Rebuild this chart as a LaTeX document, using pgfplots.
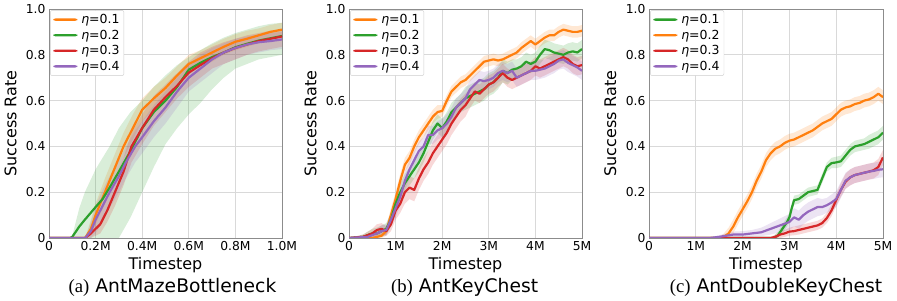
\documentclass[border=0pt]{standalone}
\usepackage{pgfplots}
\pgfplotsset{compat=1.18}
\usepackage{pgfplotstable}
\usepgfplotslibrary{fillbetween}
\usepackage{fontspec}
\setmainfont{DejaVu Sans}
\newfontfamily\capserif{Liberation Serif}

\definecolor{tOrange}{HTML}{FF7F0E}
\definecolor{tGreen}{HTML}{2CA02C}
\definecolor{tRed}{HTML}{D62728}
\definecolor{tPurple}{HTML}{9467BD}

% ---------------- Panel (a) ----------------
\pgfplotstableread{
x y lo hi
0 0 0 0
0.155 0 0 0
0.18 0.04 0.01 0.08
0.2 0.10 0.06 0.15
0.24 0.2 0.15 0.26
0.28 0.3 0.25 0.36
0.32 0.4 0.35 0.46
0.36 0.48 0.43 0.54
0.4 0.56 0.51 0.61
0.45 0.61 0.56 0.66
0.5 0.655 0.61 0.70
0.55 0.71 0.67 0.75
0.6 0.76 0.72 0.80
0.65 0.785 0.75 0.82
0.7 0.81 0.77 0.845
0.75 0.835 0.80 0.87
0.8 0.857 0.82 0.89
0.85 0.87 0.835 0.905
0.9 0.885 0.85 0.915
0.95 0.90 0.865 0.93
1.0 0.91 0.875 0.94
}\AO
\pgfplotstableread{
x y lo hi
0 0 0 0
0.09 0 0 0
0.1 0.005 0 0.01
0.13 0.05 0 0.13
0.154 0.08 0 0.2
0.2 0.135 0 0.3
0.23 0.17 0 0.35
0.26 0.22 0 0.40
0.3 0.29 0 0.48
0.35 0.38 0.09 0.55
0.4 0.48 0.2 0.6
0.45 0.55 0.31 0.66
0.5 0.60 0.41 0.71
0.55 0.66 0.48 0.755
0.6 0.735 0.54 0.79
0.65 0.765 0.59 0.82
0.7 0.79 0.65 0.85
0.75 0.81 0.70 0.875
0.8 0.833 0.74 0.895
0.85 0.848 0.76 0.91
0.9 0.862 0.78 0.925
0.95 0.872 0.79 0.935
1.0 0.882 0.80 0.94
}\AG
\pgfplotstableread{
x y lo hi
0 0 0 0
0.155 0 0 0
0.18 0.02 0 0.05
0.2 0.04 0.01 0.08
0.22 0.06 0.02 0.11
0.25 0.12 0.07 0.18
0.283 0.2 0.14 0.26
0.32 0.29 0.23 0.35
0.354 0.4 0.33 0.46
0.4 0.48 0.41 0.54
0.45 0.56 0.49 0.62
0.5 0.615 0.55 0.67
0.55 0.665 0.61 0.72
0.6 0.722 0.66 0.77
0.65 0.755 0.70 0.81
0.7 0.785 0.74 0.835
0.75 0.81 0.76 0.855
0.8 0.83 0.78 0.87
0.85 0.845 0.80 0.885
0.9 0.86 0.815 0.895
0.95 0.87 0.825 0.905
1.0 0.88 0.835 0.91
}\AR
\pgfplotstableread{
x y lo hi
0 0 0 0
0.155 0 0 0
0.18 0.03 0 0.07
0.2 0.08 0.02 0.14
0.23 0.14 0.07 0.21
0.26 0.2 0.13 0.27
0.3 0.27 0.2 0.34
0.33 0.33 0.26 0.40
0.37 0.4 0.33 0.47
0.4 0.44 0.37 0.51
0.45 0.51 0.44 0.58
0.5 0.57 0.5 0.64
0.55 0.64 0.57 0.7
0.6 0.70 0.64 0.76
0.65 0.74 0.68 0.8
0.7 0.78 0.72 0.83
0.75 0.81 0.76 0.85
0.8 0.83 0.78 0.87
0.85 0.845 0.80 0.88
0.9 0.855 0.81 0.89
0.95 0.86 0.82 0.895
1.0 0.867 0.825 0.9
}\AP

% ---------------- Panel (b) ----------------
\pgfplotstableread{
x y lo hi
0 0 0 0
0.5 0 0 0.005
0.6 0.005 0 0.015
0.7 0.01 0 0.025
0.8 0.03 0.01 0.05
0.9 0.10 0.07 0.13
1.0 0.17 0.14 0.20
1.1 0.25 0.22 0.28
1.2 0.32 0.29 0.35
1.3 0.35 0.32 0.38
1.4 0.40 0.37 0.43
1.5 0.44 0.41 0.47
1.6 0.47 0.44 0.50
1.7 0.50 0.47 0.53
1.8 0.53 0.50 0.56
1.9 0.55 0.52 0.58
2.0 0.555 0.53 0.58
2.1 0.60 0.575 0.625
2.2 0.64 0.615 0.665
2.3 0.66 0.635 0.685
2.4 0.68 0.655 0.705
2.5 0.69 0.665 0.715
2.6 0.71 0.685 0.735
2.7 0.73 0.705 0.755
2.8 0.75 0.725 0.775
2.9 0.77 0.745 0.795
3.0 0.775 0.75 0.80
3.1 0.78 0.755 0.805
3.2 0.775 0.75 0.80
3.3 0.78 0.755 0.805
3.4 0.79 0.765 0.815
3.5 0.80 0.775 0.825
3.6 0.81 0.785 0.835
3.7 0.83 0.805 0.855
3.8 0.845 0.82 0.87
3.9 0.86 0.835 0.885
4.0 0.845 0.82 0.87
4.1 0.86 0.835 0.885
4.2 0.875 0.85 0.90
4.3 0.885 0.86 0.91
4.4 0.885 0.86 0.91
4.5 0.90 0.875 0.925
4.6 0.91 0.885 0.935
4.7 0.905 0.88 0.93
4.8 0.90 0.875 0.925
4.9 0.90 0.875 0.925
5.0 0.905 0.88 0.93
}\BO
\pgfplotstableread{
x y lo hi
0 0 0 0
0.3 0.005 0 0.015
0.5 0.02 0 0.04
0.6 0.02 0 0.045
0.7 0.03 0.005 0.055
0.8 0.04 0.015 0.065
0.9 0.08 0.05 0.11
1.0 0.15 0.11 0.19
1.1 0.20 0.16 0.24
1.2 0.24 0.20 0.28
1.3 0.27 0.23 0.31
1.4 0.30 0.26 0.34
1.5 0.33 0.29 0.37
1.6 0.37 0.33 0.41
1.7 0.42 0.38 0.46
1.8 0.47 0.43 0.51
1.9 0.50 0.46 0.54
2.0 0.48 0.44 0.52
2.1 0.51 0.47 0.55
2.2 0.55 0.51 0.59
2.3 0.57 0.53 0.61
2.4 0.59 0.55 0.63
2.5 0.61 0.56 0.66
2.6 0.62 0.57 0.67
2.7 0.63 0.58 0.68
2.8 0.64 0.59 0.69
2.9 0.65 0.60 0.70
3.0 0.67 0.62 0.72
3.1 0.68 0.63 0.73
3.2 0.70 0.65 0.75
3.3 0.73 0.68 0.78
3.4 0.72 0.67 0.77
3.5 0.735 0.69 0.78
3.6 0.74 0.70 0.78
3.7 0.75 0.71 0.79
3.8 0.77 0.73 0.81
3.9 0.76 0.72 0.80
4.0 0.77 0.73 0.81
4.1 0.80 0.76 0.84
4.2 0.825 0.785 0.865
4.3 0.82 0.78 0.86
4.4 0.81 0.77 0.85
4.5 0.805 0.765 0.845
4.6 0.80 0.76 0.84
4.7 0.81 0.77 0.85
4.8 0.815 0.775 0.855
4.9 0.81 0.77 0.85
5.0 0.825 0.785 0.865
}\BG
\pgfplotstableread{
x y lo hi
0 0 0 0
0.3 0.005 0 0.015
0.5 0.02 0 0.04
0.6 0.035 0.01 0.06
0.7 0.04 0.015 0.065
0.8 0.03 0.01 0.05
0.9 0.06 0.03 0.09
1.0 0.12 0.08 0.16
1.1 0.15 0.11 0.19
1.2 0.20 0.15 0.25
1.3 0.22 0.17 0.27
1.4 0.21 0.16 0.26
1.5 0.26 0.21 0.31
1.6 0.30 0.25 0.35
1.7 0.33 0.28 0.38
1.8 0.37 0.32 0.42
1.9 0.40 0.35 0.45
2.0 0.43 0.38 0.48
2.1 0.46 0.41 0.51
2.2 0.50 0.45 0.55
2.3 0.53 0.48 0.58
2.4 0.56 0.51 0.61
2.5 0.58 0.53 0.63
2.6 0.61 0.57 0.65
2.7 0.64 0.60 0.68
2.8 0.63 0.59 0.67
2.9 0.65 0.61 0.69
3.0 0.67 0.63 0.71
3.1 0.68 0.64 0.72
3.2 0.70 0.66 0.74
3.3 0.72 0.68 0.76
3.4 0.70 0.66 0.74
3.5 0.69 0.65 0.73
3.6 0.70 0.66 0.74
3.7 0.71 0.67 0.75
3.8 0.72 0.68 0.76
3.9 0.73 0.69 0.77
4.0 0.75 0.71 0.79
4.1 0.74 0.70 0.78
4.2 0.75 0.71 0.79
4.3 0.76 0.72 0.80
4.4 0.77 0.73 0.81
4.5 0.78 0.74 0.82
4.6 0.79 0.75 0.83
4.7 0.78 0.74 0.82
4.8 0.76 0.72 0.80
4.9 0.75 0.71 0.79
5.0 0.755 0.715 0.795
}\BR
\pgfplotstableread{
x y lo hi
0 0 0 0
0.4 0.005 0 0.015
0.6 0.02 0 0.04
0.7 0.03 0.005 0.055
0.8 0.035 0.01 0.06
0.9 0.08 0.05 0.11
1.0 0.13 0.09 0.17
1.1 0.18 0.14 0.22
1.2 0.25 0.21 0.29
1.3 0.30 0.26 0.34
1.4 0.34 0.30 0.38
1.5 0.38 0.34 0.42
1.6 0.40 0.36 0.44
1.7 0.45 0.41 0.49
1.8 0.45 0.41 0.49
1.9 0.47 0.43 0.51
2.0 0.48 0.44 0.52
2.1 0.50 0.46 0.54
2.2 0.53 0.49 0.57
2.3 0.57 0.53 0.61
2.4 0.59 0.55 0.63
2.5 0.61 0.57 0.65
2.6 0.65 0.61 0.69
2.7 0.67 0.63 0.71
2.8 0.69 0.65 0.73
2.9 0.685 0.645 0.725
3.0 0.69 0.65 0.73
3.1 0.70 0.66 0.74
3.2 0.72 0.68 0.76
3.3 0.73 0.69 0.77
3.4 0.72 0.68 0.76
3.5 0.73 0.69 0.77
3.6 0.70 0.66 0.74
3.7 0.71 0.67 0.75
3.8 0.72 0.68 0.76
3.9 0.73 0.69 0.77
4.0 0.73 0.69 0.77
4.1 0.735 0.695 0.775
4.2 0.74 0.70 0.78
4.3 0.75 0.71 0.79
4.4 0.76 0.72 0.80
4.5 0.775 0.735 0.815
4.6 0.78 0.74 0.82
4.7 0.765 0.725 0.805
4.8 0.755 0.715 0.795
4.9 0.745 0.705 0.785
5.0 0.73 0.69 0.77
}\BP

% ---------------- Panel (c) ----------------
\pgfplotstableread{
x y lo hi
0 0 0 0
1.5 0 0 0.005
1.6 0.005 0 0.02
1.7 0.02 0 0.045
1.8 0.05 0.02 0.08
1.9 0.09 0.06 0.12
2.0 0.125 0.095 0.155
2.1 0.16 0.13 0.19
2.2 0.20 0.17 0.23
2.3 0.25 0.22 0.28
2.4 0.29 0.26 0.32
2.5 0.34 0.31 0.37
2.6 0.37 0.34 0.40
2.7 0.39 0.36 0.42
2.8 0.40 0.37 0.43
2.9 0.415 0.385 0.445
3.0 0.425 0.395 0.455
3.1 0.43 0.40 0.46
3.2 0.44 0.41 0.47
3.3 0.45 0.42 0.48
3.4 0.46 0.43 0.49
3.5 0.47 0.44 0.50
3.6 0.485 0.455 0.515
3.7 0.50 0.47 0.53
3.8 0.51 0.48 0.54
3.9 0.52 0.49 0.55
4.0 0.54 0.51 0.57
4.1 0.56 0.53 0.59
4.2 0.57 0.54 0.60
4.3 0.575 0.545 0.605
4.4 0.585 0.555 0.615
4.5 0.59 0.56 0.62
4.6 0.60 0.57 0.63
4.7 0.605 0.575 0.635
4.8 0.615 0.585 0.645
4.9 0.63 0.60 0.66
5.0 0.615 0.585 0.645
}\CO
\pgfplotstableread{
x y lo hi
0 0 0 0
2.65 0 0 0.005
2.75 0.01 0 0.025
2.85 0.04 0.02 0.06
2.95 0.07 0.05 0.09
3.0 0.09 0.07 0.11
3.05 0.13 0.11 0.15
3.1 0.165 0.145 0.185
3.2 0.17 0.15 0.19
3.3 0.185 0.165 0.205
3.4 0.20 0.18 0.22
3.5 0.205 0.185 0.225
3.6 0.21 0.19 0.23
3.7 0.26 0.24 0.28
3.8 0.31 0.29 0.33
3.9 0.327 0.305 0.35
4.0 0.33 0.305 0.355
4.1 0.335 0.31 0.36
4.2 0.36 0.335 0.385
4.3 0.385 0.36 0.41
4.4 0.40 0.375 0.425
4.5 0.405 0.38 0.43
4.6 0.41 0.385 0.435
4.7 0.42 0.39 0.45
4.8 0.43 0.40 0.46
4.9 0.44 0.41 0.47
5.0 0.46 0.43 0.49
}\CG
\pgfplotstableread{
x y lo hi
0 0 0 0
2.6 0 0 0.005
2.7 0.005 0 0.015
2.8 0.015 0 0.03
2.9 0.02 0.005 0.035
3.0 0.028 0.01 0.045
3.1 0.03 0.012 0.05
3.2 0.035 0.015 0.055
3.3 0.04 0.02 0.06
3.4 0.045 0.025 0.065
3.5 0.05 0.03 0.07
3.6 0.055 0.035 0.075
3.7 0.065 0.045 0.085
3.8 0.087 0.065 0.11
3.9 0.12 0.095 0.145
4.0 0.166 0.14 0.19
4.1 0.21 0.18 0.24
4.2 0.246 0.215 0.28
4.3 0.265 0.23 0.30
4.4 0.275 0.24 0.31
4.5 0.28 0.245 0.315
4.6 0.285 0.25 0.32
4.7 0.29 0.255 0.325
4.8 0.296 0.26 0.33
4.9 0.31 0.275 0.345
5.0 0.352 0.32 0.385
}\CR
\pgfplotstableread{
x y lo hi
0 0 0 0
1.3 0 0 0.003
1.5 0.005 0 0.012
1.8 0.015 0.003 0.028
2.0 0.015 0.003 0.03
2.2 0.02 0.005 0.035
2.4 0.025 0.008 0.045
2.6 0.04 0.015 0.065
2.8 0.055 0.025 0.085
3.0 0.07 0.035 0.105
3.1 0.09 0.05 0.13
3.2 0.08 0.04 0.12
3.3 0.10 0.06 0.14
3.4 0.115 0.075 0.155
3.5 0.125 0.085 0.165
3.6 0.135 0.095 0.175
3.7 0.135 0.10 0.17
3.8 0.143 0.11 0.175
3.9 0.155 0.12 0.19
4.0 0.17 0.135 0.205
4.1 0.21 0.175 0.245
4.2 0.25 0.215 0.285
4.3 0.265 0.23 0.30
4.4 0.275 0.24 0.31
4.5 0.28 0.245 0.315
4.6 0.285 0.25 0.32
4.7 0.29 0.255 0.325
4.8 0.293 0.258 0.328
4.9 0.298 0.263 0.333
5.0 0.30 0.265 0.335
}\CP

\newcommand{\bandplot}[3]{%
  \addplot[draw=none, name path=#3L, forget plot] table[x=x,y=lo]{#1};
  \addplot[draw=none, name path=#3H, forget plot] table[x=x,y=hi]{#1};
  \addplot[draw=none, fill=#2, fill opacity=0.18, forget plot] fill between[of=#3L and #3H];
}
\newcommand{\meanplot}[2]{%
  \addplot[draw=#2, line width=2.2pt, line join=round, forget plot] table[x=x,y=y]{#1};
}
\newcommand{\legimg}[1]{\addlegendimage{color=#1}}

\pgfplotsset{
  panel/.style={
    scale only axis, width=233pt, height=229pt,
    ymin=0, ymax=1,
    ytick={0,0.2,0.4,0.6,0.8,1.0},
    yticklabels={0,0.2,0.4,0.6,0.8,1.0},
    grid=major,
    major grid style={draw=black!15, line width=0.7pt},
    axis line style={draw=black!45, line width=0.9pt},
    major tick length=0pt,
    tick label style={font=\fontsize{12.3}{14}\selectfont},
    xlabel={Timestep}, ylabel={Success Rate},
    every axis x label/.style={at={(axis description cs:0.5,-0.118)}, anchor=center, font=\fontsize{16}{19}\selectfont},
    every axis y label/.style={at={(axis description cs:-0.165,0.5)}, anchor=center, rotate=90, font=\fontsize{16}{19}\selectfont},
    legend style={at={(axis description cs:0.005,0.995)}, anchor=north west,
      draw=black!20, rounded corners=2pt, fill=white,
      font=\fontsize{12.5}{14}\selectfont, inner xsep=3pt, inner ysep=2.5pt,
      row sep=2pt, column sep=2.5pt, nodes={inner sep=1.4pt}},
    legend cell align=left,
    legend image code/.code={\fill[##1, draw=none] (0pt,-1.15pt) rectangle (24pt,1.15pt);},
  }
}

\begin{document}
\begin{tikzpicture}
\path (0,0) rectangle (897pt,299pt);

% ---- (a)
\begin{axis}[panel, at={(49pt,61pt)}, anchor=south west,
  xmin=0, xmax=1, xtick={0,0.2,0.4,0.6,0.8,1.0},
  xticklabels={0,0.2M,0.4M,0.6M,0.8M,1.0M}]
\legimg{tOrange}\addlegendentry{{\itshape η}=0.1}
\legimg{tGreen}\addlegendentry{{\itshape η}=0.2}
\legimg{tRed}\addlegendentry{{\itshape η}=0.3}
\legimg{tPurple}\addlegendentry{{\itshape η}=0.4}
\bandplot{\AO}{tOrange}{ao}
\bandplot{\AG}{tGreen}{ag}
\bandplot{\AR}{tRed}{ar}
\bandplot{\AP}{tPurple}{ap}
\meanplot{\AO}{tOrange}
\meanplot{\AG}{tGreen}
\meanplot{\AR}{tRed}
\meanplot{\AP}{tPurple}
\end{axis}

% ---- (b)
\begin{axis}[panel, at={(349pt,61pt)}, anchor=south west,
  xmin=0, xmax=5, xtick={0,1,2,3,4,5},
  xticklabels={0,1M,2M,3M,4M,5M}]
\legimg{tOrange}\addlegendentry{{\itshape η}=0.1}
\legimg{tGreen}\addlegendentry{{\itshape η}=0.2}
\legimg{tRed}\addlegendentry{{\itshape η}=0.3}
\legimg{tPurple}\addlegendentry{{\itshape η}=0.4}
\bandplot{\BO}{tOrange}{bo}
\bandplot{\BG}{tGreen}{bg}
\bandplot{\BR}{tRed}{br}
\bandplot{\BP}{tPurple}{bp}
\meanplot{\BO}{tOrange}
\meanplot{\BG}{tGreen}
\meanplot{\BR}{tRed}
\meanplot{\BP}{tPurple}
\end{axis}

% ---- (c)
\begin{axis}[panel, at={(649pt,61pt)}, anchor=south west, width=234pt,
  xmin=0, xmax=5, xtick={0,1,2,3,4,5},
  xticklabels={0,1M,2M,3M,4M,5M}]
\legimg{tGreen}\addlegendentry{{\itshape η}=0.1}
\legimg{tOrange}\addlegendentry{{\itshape η}=0.2}
\legimg{tRed}\addlegendentry{{\itshape η}=0.3}
\legimg{tPurple}\addlegendentry{{\itshape η}=0.4}
\bandplot{\CG}{tGreen}{cg}
\bandplot{\CO}{tOrange}{co}
\bandplot{\CR}{tRed}{cr}
\bandplot{\CP}{tPurple}{cp}
\meanplot{\CG}{tGreen}
\meanplot{\CO}{tOrange}
\meanplot{\CR}{tRed}
\meanplot{\CP}{tPurple}
\end{axis}

\node[anchor=base, font=\fontsize{18.7}{22}\selectfont] at (172.5pt,6pt) {{\capserif (a)} AntMazeBottleneck};
\node[anchor=base, font=\fontsize{18.7}{22}\selectfont] at (464.6pt,6pt) {{\capserif (b)} AntKeyChest};
\node[anchor=base, font=\fontsize{18.7}{22}\selectfont] at (776pt,6pt) {{\capserif (c)} AntDoubleKeyChest};
\end{tikzpicture}
\end{document}
